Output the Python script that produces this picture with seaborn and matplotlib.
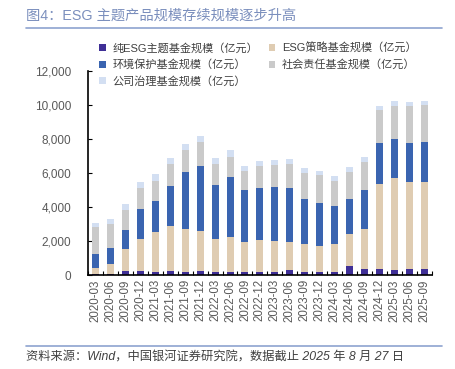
import numpy as np
import pandas as pd
import matplotlib
matplotlib.use('Agg')
import matplotlib.pyplot as plt
from matplotlib.patches import Patch
from matplotlib.ticker import FuncFormatter, FixedLocator
import seaborn as sns

# 数据（亿元）
dates = ['2020-03', '2020-06', '2020-09', '2020-12', '2021-03', '2021-06', '2021-09',
         '2021-12', '2022-03', '2022-06', '2022-09', '2022-12', '2023-03', '2023-06',
         '2023-09', '2023-12', '2024-03', '2024-06', '2024-09', '2024-12', '2025-03',
         '2025-06', '2025-09']
pure_esg = [80, 60, 215, 215, 200, 250, 200, 230, 200, 200, 175, 200, 180, 275,
            200, 180, 180, 530, 350, 330, 310, 350, 330]
esg_strategy = [320, 605, 1315, 1885, 2350, 2630, 2520, 2370, 1940, 2050, 1745, 1880,
                1820, 1665, 1600, 1550, 1640, 1860, 2350, 5040, 5380, 5140, 5160]
environment = [840, 935, 1130, 1760, 1820, 2370, 3320, 3790, 3170, 3530, 3080, 3020,
               3200, 3160, 2690, 2520, 2240, 2060, 2320, 2390, 2330, 2290, 2310]
social = [1600, 1400, 1180, 1280, 1180, 1260, 1290, 1410, 1240, 1180, 1100, 1310,
          1250, 1450, 1530, 1630, 1490, 1630, 1650, 1910, 1940, 2160, 2200]
governance = [240, 290, 320, 350, 390, 390, 370, 380, 350, 370, 310, 320, 310, 270,
              290, 260, 290, 270, 290, 270, 280, 240, 240]

names = ['纯ESG主题基金规模（亿元）', 'ESG策略基金规模（亿元）', '环境保护基金规模（亿元）',
         '社会责任基金规模（亿元）', '公司治理基金规模（亿元）']
colors = ['#3f2f96', '#dfccb2', '#3a64b0', '#cacaca', '#d3dff2']

df = pd.DataFrame({'date': dates, names[0]: pure_esg, names[1]: esg_strategy,
                   names[2]: environment, names[3]: social, names[4]: governance})
cum = df[names].cumsum(axis=1)

sns.set_theme(style='white')
plt.rcParams['font.family'] = ['Liberation Sans', 'Noto Sans CJK SC']
plt.rcParams['axes.unicode_minus'] = False

fig = plt.figure(figsize=(4.56, 3.69), dpi=100)
ax = fig.add_axes([0.193, 0.2547, 0.754, 0.5533])

# 从上往下叠画
for i in range(4, -1, -1):
    sns.barplot(x=df['date'], y=cum[names[i]], color=colors[i], width=0.47,
                saturation=1, linewidth=0, ax=ax)

ax.set_xlim(-0.5, len(dates) - 0.5)
ax.set_ylim(0, 12000)
ax.set_yticks(range(0, 12001, 2000))
ax.yaxis.set_major_formatter(FuncFormatter(lambda v, p: f'{int(v):,}'))
ax.set_xlabel('')
ax.set_ylabel('')
ax.tick_params(axis='y', direction='in', length=3, width=0.8, color='black',
               labelsize=8.5, labelcolor='#595959', pad=12, left=True)
ax.tick_params(axis='x', which='major', length=0, labelsize=8.3,
               labelcolor='#595959', rotation=90, pad=3)
ax.xaxis.set_minor_locator(FixedLocator(np.arange(-0.5, len(dates), 1)))
ax.tick_params(axis='x', which='minor', direction='in', length=3, width=0.8,
               color='black', bottom=True)
for s in ['top', 'right']:
    ax.spines[s].set_visible(False)
for s in ['left', 'bottom']:
    ax.spines[s].set_color('black')
    ax.spines[s].set_linewidth(1.2)

order = [0, 2, 4, 1, 3]
handles = [Patch(facecolor=colors[i], edgecolor='none') for i in order]
fig.legend(handles, [names[i] for i in order], ncol=2, frameon=False,
           loc='upper left', bbox_to_anchor=(0.195, 0.911), fontsize=8,
           handlelength=0.6, handleheight=0.6, handletextpad=0.6,
           columnspacing=0.95, labelspacing=0.5, labelcolor='#404040')

# 标题与来源
fig.text(0.058, 0.958, '图4：ESG 主题产品规模存续规模逐步升高', fontsize=10.3,
         color='#7b8fbd', va='center', ha='left')
fig.add_artist(plt.Line2D([0.057, 0.969], [0.925, 0.925], color='#8ea3cf', lw=1.2))
fig.add_artist(plt.Line2D([0.057, 0.969], [0.062, 0.062], color='#8ea3cf', lw=1.2))
fig.text(0.058, 0.030, '资料来源：Wind，中国银河证券研究院，数据截止 2025 年 8 月 27 日',
         fontsize=8.8, color='#404040', style='italic', va='center', ha='left')

fig.savefig('out.png', dpi=100)
